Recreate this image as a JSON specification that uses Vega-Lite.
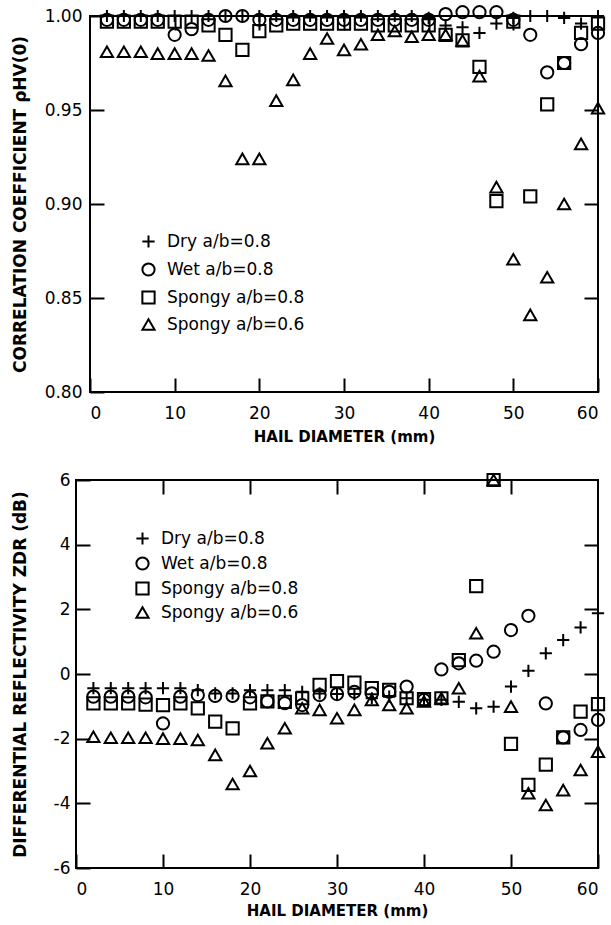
{
  "$schema": "https://vega.github.io/schema/vega-lite/v6.json",
  "background": "white",
  "padding": {"left": 9, "top": 1, "right": 2, "bottom": 2},
  "config": {
    "font": "DejaVu Sans",
    "view": {"stroke": "black", "strokeWidth": 2},
    "axis": {
      "grid": false,
      "domain": false,
      "tickColor": "black",
      "tickWidth": 2,
      "tickSize": -14,
      "labelFont": "DejaVu Sans",
      "labelFontSize": 17,
      "labelColor": "black",
      "titleFont": "DejaVu Sans",
      "titleFontWeight": "bold",
      "titleFontSize": 15,
      "titleColor": "black"
    },
    "axisLeft": {"titleFontSize": 17},
    "legend": {
      "padding": 0,
      "labelOffset": 10,
      "labelFont": "DejaVu Sans",
      "labelFontSize": 17,
      "labelColor": "black",
      "symbolStrokeWidth": 2,
      "symbolStrokeColor": "black",
      "symbolFillColor": "transparent"
    }
  },
  "datasets": {
    "rhv": [
      {"d": 2, "s": "Dry a/b=0.8", "v": 1.000}, {"d": 4, "s": "Dry a/b=0.8", "v": 1.000}, {"d": 6, "s": "Dry a/b=0.8", "v": 1.000}, {"d": 8, "s": "Dry a/b=0.8", "v": 1.000}, {"d": 10, "s": "Dry a/b=0.8", "v": 1.000}, {"d": 12, "s": "Dry a/b=0.8", "v": 1.000}, {"d": 14, "s": "Dry a/b=0.8", "v": 1.000}, {"d": 16, "s": "Dry a/b=0.8", "v": 1.000}, {"d": 18, "s": "Dry a/b=0.8", "v": 1.000}, {"d": 20, "s": "Dry a/b=0.8", "v": 1.000},
      {"d": 22, "s": "Dry a/b=0.8", "v": 1.000}, {"d": 24, "s": "Dry a/b=0.8", "v": 1.000}, {"d": 26, "s": "Dry a/b=0.8", "v": 1.000}, {"d": 28, "s": "Dry a/b=0.8", "v": 1.000}, {"d": 30, "s": "Dry a/b=0.8", "v": 1.000}, {"d": 32, "s": "Dry a/b=0.8", "v": 1.000}, {"d": 34, "s": "Dry a/b=0.8", "v": 1.000}, {"d": 36, "s": "Dry a/b=0.8", "v": 1.000}, {"d": 38, "s": "Dry a/b=0.8", "v": 1.000}, {"d": 40, "s": "Dry a/b=0.8", "v": 0.999},
      {"d": 42, "s": "Dry a/b=0.8", "v": 0.995}, {"d": 44, "s": "Dry a/b=0.8", "v": 0.994}, {"d": 46, "s": "Dry a/b=0.8", "v": 0.991}, {"d": 48, "s": "Dry a/b=0.8", "v": 0.996}, {"d": 50, "s": "Dry a/b=0.8", "v": 0.999}, {"d": 52, "s": "Dry a/b=0.8", "v": 1.000}, {"d": 54, "s": "Dry a/b=0.8", "v": 1.000}, {"d": 56, "s": "Dry a/b=0.8", "v": 0.999}, {"d": 58, "s": "Dry a/b=0.8", "v": 0.996}, {"d": 60, "s": "Dry a/b=0.8", "v": 1.000},

      {"d": 2, "s": "Wet a/b=0.8", "v": 0.998}, {"d": 4, "s": "Wet a/b=0.8", "v": 0.998}, {"d": 6, "s": "Wet a/b=0.8", "v": 0.998}, {"d": 8, "s": "Wet a/b=0.8", "v": 0.998}, {"d": 10, "s": "Wet a/b=0.8", "v": 0.990}, {"d": 12, "s": "Wet a/b=0.8", "v": 0.993}, {"d": 14, "s": "Wet a/b=0.8", "v": 0.998}, {"d": 16, "s": "Wet a/b=0.8", "v": 1.000}, {"d": 18, "s": "Wet a/b=0.8", "v": 1.000}, {"d": 20, "s": "Wet a/b=0.8", "v": 0.998},
      {"d": 22, "s": "Wet a/b=0.8", "v": 0.998}, {"d": 24, "s": "Wet a/b=0.8", "v": 0.998}, {"d": 26, "s": "Wet a/b=0.8", "v": 0.998}, {"d": 28, "s": "Wet a/b=0.8", "v": 0.998}, {"d": 30, "s": "Wet a/b=0.8", "v": 0.998}, {"d": 32, "s": "Wet a/b=0.8", "v": 0.998}, {"d": 34, "s": "Wet a/b=0.8", "v": 0.998}, {"d": 36, "s": "Wet a/b=0.8", "v": 0.998}, {"d": 38, "s": "Wet a/b=0.8", "v": 0.998}, {"d": 40, "s": "Wet a/b=0.8", "v": 0.998},
      {"d": 42, "s": "Wet a/b=0.8", "v": 1.001}, {"d": 44, "s": "Wet a/b=0.8", "v": 1.002}, {"d": 46, "s": "Wet a/b=0.8", "v": 1.002}, {"d": 48, "s": "Wet a/b=0.8", "v": 1.002}, {"d": 50, "s": "Wet a/b=0.8", "v": 0.998}, {"d": 52, "s": "Wet a/b=0.8", "v": 0.990}, {"d": 54, "s": "Wet a/b=0.8", "v": 0.970}, {"d": 56, "s": "Wet a/b=0.8", "v": 0.975}, {"d": 58, "s": "Wet a/b=0.8", "v": 0.985}, {"d": 60, "s": "Wet a/b=0.8", "v": 0.991},

      {"d": 2, "s": "Spongy a/b=0.8", "v": 0.997}, {"d": 4, "s": "Spongy a/b=0.8", "v": 0.997}, {"d": 6, "s": "Spongy a/b=0.8", "v": 0.997}, {"d": 8, "s": "Spongy a/b=0.8", "v": 0.997}, {"d": 10, "s": "Spongy a/b=0.8", "v": 0.997}, {"d": 12, "s": "Spongy a/b=0.8", "v": 0.997}, {"d": 14, "s": "Spongy a/b=0.8", "v": 0.995}, {"d": 16, "s": "Spongy a/b=0.8", "v": 0.990}, {"d": 18, "s": "Spongy a/b=0.8", "v": 0.982}, {"d": 20, "s": "Spongy a/b=0.8", "v": 0.992},
      {"d": 22, "s": "Spongy a/b=0.8", "v": 0.995}, {"d": 24, "s": "Spongy a/b=0.8", "v": 0.996}, {"d": 26, "s": "Spongy a/b=0.8", "v": 0.996}, {"d": 28, "s": "Spongy a/b=0.8", "v": 0.996}, {"d": 30, "s": "Spongy a/b=0.8", "v": 0.996}, {"d": 32, "s": "Spongy a/b=0.8", "v": 0.996}, {"d": 34, "s": "Spongy a/b=0.8", "v": 0.995}, {"d": 36, "s": "Spongy a/b=0.8", "v": 0.995}, {"d": 38, "s": "Spongy a/b=0.8", "v": 0.995}, {"d": 40, "s": "Spongy a/b=0.8", "v": 0.995},
      {"d": 42, "s": "Spongy a/b=0.8", "v": 0.990}, {"d": 44, "s": "Spongy a/b=0.8", "v": 0.987}, {"d": 46, "s": "Spongy a/b=0.8", "v": 0.973}, {"d": 48, "s": "Spongy a/b=0.8", "v": 0.9015}, {"d": 50, "s": "Spongy a/b=0.8", "v": 0.997}, {"d": 52, "s": "Spongy a/b=0.8", "v": 0.904}, {"d": 54, "s": "Spongy a/b=0.8", "v": 0.953}, {"d": 56, "s": "Spongy a/b=0.8", "v": 0.975}, {"d": 58, "s": "Spongy a/b=0.8", "v": 0.991}, {"d": 60, "s": "Spongy a/b=0.8", "v": 0.996},

      {"d": 2, "s": "Spongy a/b=0.6", "v": 0.981}, {"d": 4, "s": "Spongy a/b=0.6", "v": 0.981}, {"d": 6, "s": "Spongy a/b=0.6", "v": 0.981}, {"d": 8, "s": "Spongy a/b=0.6", "v": 0.980}, {"d": 10, "s": "Spongy a/b=0.6", "v": 0.980}, {"d": 12, "s": "Spongy a/b=0.6", "v": 0.980}, {"d": 14, "s": "Spongy a/b=0.6", "v": 0.979}, {"d": 16, "s": "Spongy a/b=0.6", "v": 0.9655}, {"d": 18, "s": "Spongy a/b=0.6", "v": 0.924}, {"d": 20, "s": "Spongy a/b=0.6", "v": 0.924},
      {"d": 22, "s": "Spongy a/b=0.6", "v": 0.955}, {"d": 24, "s": "Spongy a/b=0.6", "v": 0.966}, {"d": 26, "s": "Spongy a/b=0.6", "v": 0.980}, {"d": 28, "s": "Spongy a/b=0.6", "v": 0.988}, {"d": 30, "s": "Spongy a/b=0.6", "v": 0.982}, {"d": 32, "s": "Spongy a/b=0.6", "v": 0.985}, {"d": 34, "s": "Spongy a/b=0.6", "v": 0.990}, {"d": 36, "s": "Spongy a/b=0.6", "v": 0.992}, {"d": 38, "s": "Spongy a/b=0.6", "v": 0.989}, {"d": 40, "s": "Spongy a/b=0.6", "v": 0.990},
      {"d": 42, "s": "Spongy a/b=0.6", "v": 0.990}, {"d": 44, "s": "Spongy a/b=0.6", "v": 0.987}, {"d": 46, "s": "Spongy a/b=0.6", "v": 0.968}, {"d": 48, "s": "Spongy a/b=0.6", "v": 0.909}, {"d": 50, "s": "Spongy a/b=0.6", "v": 0.8706}, {"d": 52, "s": "Spongy a/b=0.6", "v": 0.841}, {"d": 54, "s": "Spongy a/b=0.6", "v": 0.861}, {"d": 56, "s": "Spongy a/b=0.6", "v": 0.900}, {"d": 58, "s": "Spongy a/b=0.6", "v": 0.932}, {"d": 60, "s": "Spongy a/b=0.6", "v": 0.951}
    ],
    "zdr": [
      {"d": 2, "s": "Dry a/b=0.8", "v": -0.44}, {"d": 4, "s": "Dry a/b=0.8", "v": -0.44}, {"d": 6, "s": "Dry a/b=0.8", "v": -0.44}, {"d": 8, "s": "Dry a/b=0.8", "v": -0.44}, {"d": 10, "s": "Dry a/b=0.8", "v": -0.44}, {"d": 12, "s": "Dry a/b=0.8", "v": -0.44}, {"d": 14, "s": "Dry a/b=0.8", "v": -0.5}, {"d": 16, "s": "Dry a/b=0.8", "v": -0.6}, {"d": 18, "s": "Dry a/b=0.8", "v": -0.6}, {"d": 20, "s": "Dry a/b=0.8", "v": -0.5},
      {"d": 22, "s": "Dry a/b=0.8", "v": -0.5}, {"d": 24, "s": "Dry a/b=0.8", "v": -0.5}, {"d": 26, "s": "Dry a/b=0.8", "v": -0.55}, {"d": 28, "s": "Dry a/b=0.8", "v": -0.6}, {"d": 30, "s": "Dry a/b=0.8", "v": -0.62}, {"d": 32, "s": "Dry a/b=0.8", "v": -0.62}, {"d": 34, "s": "Dry a/b=0.8", "v": -0.75}, {"d": 36, "s": "Dry a/b=0.8", "v": -0.7}, {"d": 38, "s": "Dry a/b=0.8", "v": -0.75}, {"d": 40, "s": "Dry a/b=0.8", "v": -0.8},
      {"d": 42, "s": "Dry a/b=0.8", "v": -0.8}, {"d": 44, "s": "Dry a/b=0.8", "v": -0.86}, {"d": 46, "s": "Dry a/b=0.8", "v": -1.06}, {"d": 48, "s": "Dry a/b=0.8", "v": -1.01}, {"d": 50, "s": "Dry a/b=0.8", "v": -0.39}, {"d": 52, "s": "Dry a/b=0.8", "v": 0.1}, {"d": 54, "s": "Dry a/b=0.8", "v": 0.64}, {"d": 56, "s": "Dry a/b=0.8", "v": 1.05}, {"d": 58, "s": "Dry a/b=0.8", "v": 1.44}, {"d": 60, "s": "Dry a/b=0.8", "v": 1.88},

      {"d": 2, "s": "Wet a/b=0.8", "v": -0.7}, {"d": 4, "s": "Wet a/b=0.8", "v": -0.7}, {"d": 6, "s": "Wet a/b=0.8", "v": -0.7}, {"d": 8, "s": "Wet a/b=0.8", "v": -0.72}, {"d": 10, "s": "Wet a/b=0.8", "v": -1.53}, {"d": 12, "s": "Wet a/b=0.8", "v": -0.7}, {"d": 14, "s": "Wet a/b=0.8", "v": -0.65}, {"d": 16, "s": "Wet a/b=0.8", "v": -0.68}, {"d": 18, "s": "Wet a/b=0.8", "v": -0.68}, {"d": 20, "s": "Wet a/b=0.8", "v": -0.72},
      {"d": 22, "s": "Wet a/b=0.8", "v": -0.85}, {"d": 24, "s": "Wet a/b=0.8", "v": -0.9}, {"d": 26, "s": "Wet a/b=0.8", "v": -0.96}, {"d": 28, "s": "Wet a/b=0.8", "v": -0.65}, {"d": 30, "s": "Wet a/b=0.8", "v": -0.62}, {"d": 32, "s": "Wet a/b=0.8", "v": -0.55}, {"d": 34, "s": "Wet a/b=0.8", "v": -0.6}, {"d": 36, "s": "Wet a/b=0.8", "v": -0.55}, {"d": 38, "s": "Wet a/b=0.8", "v": -0.39}, {"d": 40, "s": "Wet a/b=0.8", "v": -0.8},
      {"d": 42, "s": "Wet a/b=0.8", "v": 0.14}, {"d": 44, "s": "Wet a/b=0.8", "v": 0.33}, {"d": 46, "s": "Wet a/b=0.8", "v": 0.41}, {"d": 48, "s": "Wet a/b=0.8", "v": 0.69}, {"d": 50, "s": "Wet a/b=0.8", "v": 1.36}, {"d": 52, "s": "Wet a/b=0.8", "v": 1.8}, {"d": 54, "s": "Wet a/b=0.8", "v": -0.91}, {"d": 56, "s": "Wet a/b=0.8", "v": -1.96}, {"d": 58, "s": "Wet a/b=0.8", "v": -1.73}, {"d": 60, "s": "Wet a/b=0.8", "v": -1.42},

      {"d": 2, "s": "Spongy a/b=0.8", "v": -0.91}, {"d": 4, "s": "Spongy a/b=0.8", "v": -0.91}, {"d": 6, "s": "Spongy a/b=0.8", "v": -0.91}, {"d": 8, "s": "Spongy a/b=0.8", "v": -0.95}, {"d": 10, "s": "Spongy a/b=0.8", "v": -0.96}, {"d": 12, "s": "Spongy a/b=0.8", "v": -0.91}, {"d": 14, "s": "Spongy a/b=0.8", "v": -1.06}, {"d": 16, "s": "Spongy a/b=0.8", "v": -1.47}, {"d": 18, "s": "Spongy a/b=0.8", "v": -1.68}, {"d": 20, "s": "Spongy a/b=0.8", "v": -0.91},
      {"d": 22, "s": "Spongy a/b=0.8", "v": -0.85}, {"d": 24, "s": "Spongy a/b=0.8", "v": -0.86}, {"d": 26, "s": "Spongy a/b=0.8", "v": -0.75}, {"d": 28, "s": "Spongy a/b=0.8", "v": -0.34}, {"d": 30, "s": "Spongy a/b=0.8", "v": -0.22}, {"d": 32, "s": "Spongy a/b=0.8", "v": -0.27}, {"d": 34, "s": "Spongy a/b=0.8", "v": -0.44}, {"d": 36, "s": "Spongy a/b=0.8", "v": -0.49}, {"d": 38, "s": "Spongy a/b=0.8", "v": -0.75}, {"d": 40, "s": "Spongy a/b=0.8", "v": -0.78},
      {"d": 42, "s": "Spongy a/b=0.8", "v": -0.75}, {"d": 44, "s": "Spongy a/b=0.8", "v": 0.43}, {"d": 46, "s": "Spongy a/b=0.8", "v": 2.72}, {"d": 48, "s": "Spongy a/b=0.8", "v": 6.0}, {"d": 50, "s": "Spongy a/b=0.8", "v": -2.16}, {"d": 52, "s": "Spongy a/b=0.8", "v": -3.43}, {"d": 54, "s": "Spongy a/b=0.8", "v": -2.8}, {"d": 56, "s": "Spongy a/b=0.8", "v": -1.96}, {"d": 58, "s": "Spongy a/b=0.8", "v": -1.16}, {"d": 60, "s": "Spongy a/b=0.8", "v": -0.93},

      {"d": 2, "s": "Spongy a/b=0.6", "v": -1.94}, {"d": 4, "s": "Spongy a/b=0.6", "v": -1.97}, {"d": 6, "s": "Spongy a/b=0.6", "v": -1.97}, {"d": 8, "s": "Spongy a/b=0.6", "v": -1.97}, {"d": 10, "s": "Spongy a/b=0.6", "v": -2.0}, {"d": 12, "s": "Spongy a/b=0.6", "v": -2.0}, {"d": 14, "s": "Spongy a/b=0.6", "v": -2.04}, {"d": 16, "s": "Spongy a/b=0.6", "v": -2.5}, {"d": 18, "s": "Spongy a/b=0.6", "v": -3.4}, {"d": 20, "s": "Spongy a/b=0.6", "v": -3.0},
      {"d": 22, "s": "Spongy a/b=0.6", "v": -2.14}, {"d": 24, "s": "Spongy a/b=0.6", "v": -1.68}, {"d": 26, "s": "Spongy a/b=0.6", "v": -1.06}, {"d": 28, "s": "Spongy a/b=0.6", "v": -1.11}, {"d": 30, "s": "Spongy a/b=0.6", "v": -1.37}, {"d": 32, "s": "Spongy a/b=0.6", "v": -1.11}, {"d": 34, "s": "Spongy a/b=0.6", "v": -0.8}, {"d": 36, "s": "Spongy a/b=0.6", "v": -0.96}, {"d": 38, "s": "Spongy a/b=0.6", "v": -1.06}, {"d": 40, "s": "Spongy a/b=0.6", "v": -0.85},
      {"d": 42, "s": "Spongy a/b=0.6", "v": -0.75}, {"d": 44, "s": "Spongy a/b=0.6", "v": -0.44}, {"d": 46, "s": "Spongy a/b=0.6", "v": 1.26}, {"d": 48, "s": "Spongy a/b=0.6", "v": 6.0}, {"d": 50, "s": "Spongy a/b=0.6", "v": -1.01}, {"d": 52, "s": "Spongy a/b=0.6", "v": -3.69}, {"d": 54, "s": "Spongy a/b=0.6", "v": -4.05}, {"d": 56, "s": "Spongy a/b=0.6", "v": -3.59}, {"d": 58, "s": "Spongy a/b=0.6", "v": -2.97}, {"d": 60, "s": "Spongy a/b=0.6", "v": -2.4}
    ]
  },
  "spacing": 23,
  "resolve": {
    "scale": {"shape": "independent", "size": "independent"},
    "legend": {"shape": "independent", "size": "independent"}
  },
  "vconcat": [
    {
      "spacing": 0,
      "resolve": {
        "scale": {"shape": "independent", "size": "independent"},
        "legend": {"shape": "independent", "size": "independent"}
      },
      "hconcat": [
        {"width": 1, "height": 1, "view": {"stroke": null}, "data": {"values": []}, "mark": {"type": "point"}},
        {
          "width": 508,
          "height": 376,
          "data": {"name": "rhv"},
          "resolve": {"axis": {"x": "independent", "y": "independent"}},
          "layer": [
            {
              "mark": {"type": "point", "filled": false, "stroke": "black", "strokeWidth": 2, "opacity": 1},
              "encoding": {
                "x": {"field": "d", "type": "quantitative", "scale": {"domain": [0, 60], "nice": false},
                      "axis": {"values": [0, 10, 20, 30, 40, 50, 60], "labelPadding": 27, "title": "HAIL DIAMETER (mm)", "titlePadding": 8}},
                "y": {"field": "v", "type": "quantitative", "scale": {"domain": [0.8, 1.0], "nice": false, "zero": false},
                      "axis": {"values": [0.8, 0.85, 0.9, 0.95, 1.0], "format": ".2f", "labelPadding": 22, "title": "CORRELATION COEFFICIENT ρHV(0)", "titlePadding": 15}},
                "shape": {"field": "s", "type": "nominal",
                          "scale": {"domain": ["Dry a/b=0.8", "Wet a/b=0.8", "Spongy a/b=0.8", "Spongy a/b=0.6"], "range": ["M-1,0H1M0,-1V1", "circle", "square", "triangle-up"]},
                          "legend": {"title": null, "orient": "none", "legendX": 50, "legendY": 217, "rowPadding": 7}},
                "size": {"field": "s", "type": "nominal",
                         "scale": {"domain": ["Dry a/b=0.8", "Wet a/b=0.8", "Spongy a/b=0.8", "Spongy a/b=0.6"], "range": [150, 150, 100, 115]},
                         "legend": {"title": null, "orient": "none", "legendX": 50, "legendY": 217, "rowPadding": 7}},
                "color": {"value": "black"}
              }
            },
            {
              "mark": {"type": "point", "opacity": 0},
              "encoding": {
                "x": {"field": "d", "type": "quantitative", "scale": {"domain": [0, 60], "nice": false},
                      "axis": {"orient": "top", "values": [10, 20, 30, 40, 50], "labels": false, "title": null}},
                "y": {"field": "v", "type": "quantitative", "scale": {"domain": [0.8, 1.0], "nice": false, "zero": false},
                      "axis": {"orient": "right", "values": [0.85, 0.9, 0.95], "labels": false, "title": null}}
              }
            }
          ]
        }
      ]
    },
    {
      "spacing": 0,
      "resolve": {
        "scale": {"shape": "independent", "size": "independent"},
        "legend": {"shape": "independent", "size": "independent"}
      },
      "hconcat": [
        {"width": 1, "height": 1, "view": {"stroke": null}, "data": {"values": []}, "mark": {"type": "point"}},
        {
          "width": 522,
          "height": 388,
          "data": {"name": "zdr"},
          "resolve": {"axis": {"x": "independent", "y": "independent"}},
          "layer": [
            {
              "mark": {"type": "point", "filled": false, "stroke": "black", "strokeWidth": 2, "opacity": 1},
              "encoding": {
                "x": {"field": "d", "type": "quantitative", "scale": {"domain": [0, 60], "nice": false},
                      "axis": {"values": [0, 10, 20, 30, 40, 50, 60], "labelPadding": 27, "title": "HAIL DIAMETER (mm)", "titlePadding": 6}},
                "y": {"field": "v", "type": "quantitative", "scale": {"domain": [-6, 6], "nice": false},
                      "axis": {"values": [-6, -4, -2, 0, 2, 4, 6], "labelExpr": "replace(datum.label, '−', '-')", "labelPadding": 20, "title": "DIFFERENTIAL REFLECTIVITY ZDR (dB)", "titlePadding": 24}},
                "shape": {"field": "s", "type": "nominal",
                          "scale": {"domain": ["Dry a/b=0.8", "Wet a/b=0.8", "Spongy a/b=0.8", "Spongy a/b=0.6"], "range": ["M-1,0H1M0,-1V1", "circle", "square", "triangle-up"]},
                          "legend": {"title": null, "orient": "none", "legendX": 58, "legendY": 50, "rowPadding": 4}},
                "size": {"field": "s", "type": "nominal",
                         "scale": {"domain": ["Dry a/b=0.8", "Wet a/b=0.8", "Spongy a/b=0.8", "Spongy a/b=0.6"], "range": [150, 150, 100, 115]},
                         "legend": {"title": null, "orient": "none", "legendX": 58, "legendY": 50, "rowPadding": 4}},
                "color": {"value": "black"}
              }
            },
            {
              "mark": {"type": "point", "opacity": 0},
              "encoding": {
                "x": {"field": "d", "type": "quantitative", "scale": {"domain": [0, 60], "nice": false},
                      "axis": {"orient": "top", "values": [10, 20, 30, 40, 50], "labels": false, "title": null}},
                "y": {"field": "v", "type": "quantitative", "scale": {"domain": [-6, 6], "nice": false},
                      "axis": {"orient": "right", "values": [-4, -2, 0, 2, 4], "labels": false, "title": null}}
              }
            }
          ]
        }
      ]
    }
  ]
}
